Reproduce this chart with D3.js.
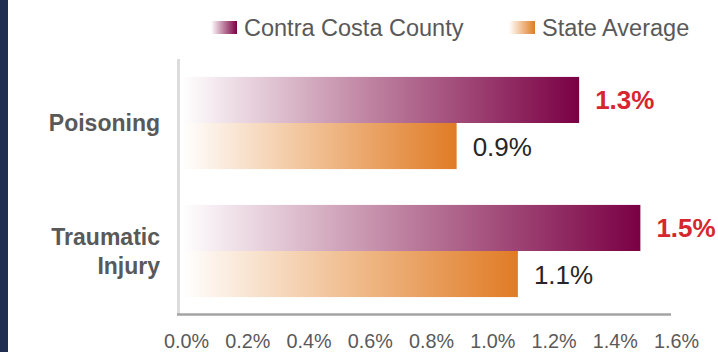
<!DOCTYPE html>
<html>
<head>
<meta charset="utf-8">
<script src="https://cdn.jsdelivr.net/npm/d3@7/dist/d3.min.js"></script>
<style>
  html, body { margin: 0; padding: 0; background: #ffffff; }
  svg { display: block; font-family: "Liberation Sans", Arial, sans-serif; }
</style>
</head>
<body>
<svg id="chart" width="718" height="352"></svg>
<script>
// Injury hospitalization rates, county vs. state
const categories = ["Poisoning", "Traumatic Injury"];
const seriesNames = ["Contra Costa County", "State Average"];
const countyValues = [1.3, 1.5];
const stateValues = [0.9, 1.1];
const tickValues = [0, 0.2, 0.4, 0.6, 0.8, 1.0, 1.2, 1.4, 1.6];

const svg = d3.select("#chart");
const W = 718, H = 352;

// dark side strip
svg.append("rect").attr("x", 0).attr("y", 0).attr("width", 8).attr("height", H).attr("fill", "#1f2e50");

const defs = svg.append("defs");
function gradient(id, mid, end) {
  const g = defs.append("linearGradient").attr("id", id)
    .attr("x1", "0%").attr("x2", "100%").attr("y1", "0%").attr("y2", "0%");
  g.append("stop").attr("offset", "0%").attr("stop-color", "#ffffff");
  g.append("stop").attr("offset", "50%").attr("stop-color", mid);
  g.append("stop").attr("offset", "100%").attr("stop-color", end);
}
gradient("gCounty", "#bb7c9c", "#7a0044");
gradient("gState", "#f0bd8f", "#e07b25");
const fills = ["url(#gCounty)", "url(#gState)"];

const left = 181, right = 671;
const x = d3.scaleLinear().domain([0, 1.6]).range([left, right]);
const y = d3.scaleBand().domain(categories).range([59, 315]).paddingInner(0.28).paddingOuter(0.14);
const ySub = d3.scaleBand().domain(seriesNames).range([0, y.bandwidth()]);

const rows = categories.map((c, i) => ({ cat: c, vals: [countyValues[i], stateValues[i]] }));

// axis lines
svg.append("line").attr("x1", 178.5).attr("x2", 178.5).attr("y1", 59).attr("y2", 314)
  .attr("stroke", "#dcdcdc").attr("stroke-width", 3);
svg.append("line").attr("x1", 177).attr("x2", right).attr("y1", 314.5).attr("y2", 314.5)
  .attr("stroke", "#a3a3a3").attr("stroke-width", 2.5);

// bars
const groups = svg.selectAll("g.row").data(rows).join("g").attr("class", "row")
  .attr("transform", d => `translate(0,${y(d.cat)})`);
groups.selectAll("rect").data(d => d.vals.map((v, k) => ({ v, k })))
  .join("rect")
  .attr("x", x(0) + 0.5)
  .attr("y", d => ySub(seriesNames[d.k]))
  .attr("width", d => x(d.v) - x(0) - 0.5)
  .attr("height", ySub.bandwidth())
  .attr("fill", d => fills[d.k]);

// value labels
groups.selectAll("text.val").data(d => d.vals.map((v, k) => ({ v, k })))
  .join("text").attr("class", "val")
  .attr("x", d => x(d.v) + 16)
  .attr("y", d => ySub(seriesNames[d.k]) + ySub.bandwidth() / 2 + 9.5)
  .attr("font-size", 26)
  .attr("font-weight", d => d.k === 0 ? "bold" : "normal")
  .attr("fill", d => d.k === 0 ? "#d6262e" : "#262626")
  .text(d => d.v.toFixed(1) + "%");

// category labels
const catLines = { "Poisoning": ["Poisoning"], "Traumatic Injury": ["Traumatic", "Injury"] };
groups.each(function (d) {
  const lines = catLines[d.cat];
  const cy = y.bandwidth() / 2;
  const lh = 29;
  const t = d3.select(this).append("text")
    .attr("text-anchor", "end").attr("font-size", 23).attr("font-weight", "bold").attr("fill", "#595959");
  lines.forEach((l, i) => {
    t.append("tspan").attr("x", 160)
      .attr("y", cy + 8.5 + (i - (lines.length - 1) / 2) * lh).text(l);
  });
});

// x axis tick labels
const axis = d3.axisBottom(x).tickValues(tickValues).tickSize(0).tickPadding(0)
  .tickFormat(d => d.toFixed(1) + "%");
const ax = svg.append("g").attr("transform", "translate(0,348)").call(axis);
ax.select(".domain").remove();
ax.selectAll("text").attr("font-size", 19.8).attr("fill", "#595959")
  .attr("font-family", "Liberation Sans, Arial, sans-serif").attr("dy", 0).attr("dx", 5);

// legend
const legendX = [211, 509];
const lg = svg.selectAll("g.leg").data(seriesNames).join("g").attr("class", "leg")
  .attr("transform", (d, i) => `translate(${legendX[i]},21)`);
lg.append("rect").attr("width", 26).attr("height", 13).attr("fill", (d, i) => fills[i]);
lg.append("text").attr("x", 33).attr("y", 14.5).attr("font-size", 23.5).attr("fill", "#595959").text(d => d);
</script>
</body>
</html>
